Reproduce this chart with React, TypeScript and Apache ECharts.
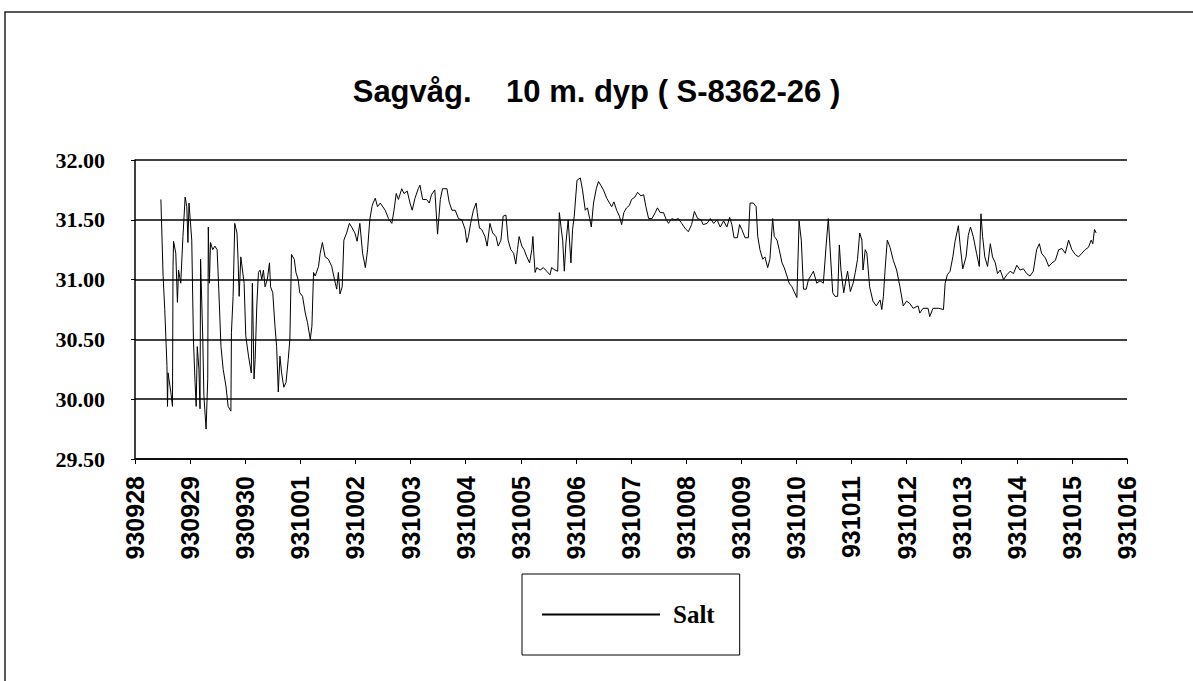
import React, { useEffect, useRef } from "react";
import * as echarts from "echarts";

const dateLabels = [
  "930928", "930929", "930930", "931001", "931002", "931003", "931004",
  "931005", "931006", "931007", "931008", "931009", "931010", "931011",
  "931012", "931013", "931014", "931015", "931016",
];

const yTicks = [29.5, 30.0, 30.5, 31.0, 31.5, 32.0];

// time in days after 930928 00:00
const dayOffset = [
  0.47, 0.51, 0.54, 0.58, 0.59, 0.60, 0.65, 0.68, 0.69, 0.70, 0.74, 0.77, 0.79, 0.83, 0.87, 0.91, 0.94, 0.96, 0.98,
  1.03, 1.06, 1.09, 1.11, 1.13, 1.16, 1.18, 1.19, 1.23, 1.25, 1.29, 1.32, 1.33, 1.35, 1.37, 1.41, 1.45, 1.49, 1.52,
  1.56, 1.60, 1.65, 1.69, 1.74, 1.75, 1.78, 1.81, 1.85, 1.87, 1.89, 1.92, 1.95, 1.98,
  2.01, 2.06, 2.11, 2.13, 2.16, 2.18, 2.21, 2.24, 2.27, 2.30, 2.33, 2.36, 2.40, 2.44, 2.46, 2.50, 2.54, 2.57, 2.60,
  2.63, 2.66, 2.70, 2.74, 2.78, 2.81, 2.84, 2.89, 2.92, 2.96, 2.99,
  3.04, 3.09, 3.13, 3.18, 3.21, 3.24, 3.27, 3.33, 3.36, 3.40, 3.45, 3.51, 3.57, 3.62, 3.66, 3.69, 3.72, 3.76, 3.79,
  3.84, 3.89, 3.93, 3.99,
  4.03, 4.08, 4.13, 4.18, 4.22, 4.26, 4.30, 4.32, 4.36, 4.40, 4.45, 4.54, 4.60, 4.66, 4.70, 4.74, 4.78, 4.84, 4.88,
  4.94, 4.99,
  5.03, 5.08, 5.14, 5.17, 5.22, 5.29, 5.34, 5.38, 5.44, 5.49, 5.54, 5.58, 5.66, 5.70, 5.75, 5.81, 5.87, 5.93, 5.99,
  6.02, 6.05, 6.09, 6.14, 6.19, 6.21, 6.25, 6.29, 6.35, 6.39, 6.44, 6.49, 6.55, 6.59, 6.64, 6.68, 6.73, 6.77, 6.82,
  6.87, 6.91, 6.94, 6.97,
  7.02, 7.06, 7.11, 7.16, 7.20, 7.22, 7.24, 7.26, 7.29, 7.35, 7.41, 7.47, 7.53, 7.56, 7.62, 7.67, 7.70, 7.73, 7.76,
  7.79, 7.82, 7.86, 7.91, 7.94, 7.97,
  8.02, 8.08, 8.12, 8.17, 8.21, 8.25, 8.28, 8.32, 8.37, 8.41, 8.45, 8.50, 8.56, 8.61, 8.65, 8.69, 8.74, 8.79, 8.83,
  8.87, 8.92, 8.97,
  9.01, 9.07, 9.12, 9.18, 9.23, 9.27, 9.32, 9.38, 9.44, 9.48, 9.53, 9.59, 9.64, 9.68, 9.74, 9.80, 9.86, 9.92, 9.98,
  10.04, 10.10, 10.15, 10.21, 10.27, 10.31, 10.38, 10.44, 10.50, 10.56, 10.62, 10.68, 10.74, 10.79, 10.83, 10.87,
  10.93, 10.97,
  11.01, 11.07, 11.13, 11.16, 11.22, 11.27, 11.30, 11.34, 11.39, 11.43, 11.48, 11.52, 11.57, 11.60, 11.65, 11.69,
  11.74, 11.78, 11.83, 11.87, 11.92, 11.96,
  12.01, 12.05, 12.09, 12.13, 12.18, 12.22, 12.26, 12.31, 12.37, 12.43, 12.49, 12.54, 12.58, 12.61, 12.66, 12.70,
  12.75, 12.78, 12.81, 12.86, 12.90, 12.93, 12.98,
  13.03, 13.07, 13.11, 13.15, 13.19, 13.21, 13.25, 13.28, 13.33, 13.39, 13.45, 13.52, 13.55, 13.58, 13.61, 13.65,
  13.70, 13.76, 13.82, 13.88, 13.94,
  14.00, 14.06, 14.12, 14.21, 14.24, 14.30, 14.39, 14.42, 14.48, 14.58, 14.67, 14.70, 14.74, 14.79, 14.84, 14.88,
  14.94, 14.97,
  15.02, 15.08, 15.12, 15.16, 15.21, 15.27, 15.32, 15.35, 15.38, 15.42, 15.47, 15.52, 15.56, 15.61, 15.65, 15.70,
  15.76, 15.82, 15.88, 15.94,
  16.00, 16.06, 16.12, 16.18, 16.24, 16.30, 16.36, 16.41, 16.45, 16.52, 16.58, 16.64, 16.70, 16.76, 16.82, 16.88,
  16.94,
  17.00, 17.06, 17.12, 17.18, 17.24, 17.30, 17.35, 17.38, 17.41, 17.44,
];

const salt = [
  31.67, 31.03, 30.75, 30.28, 29.94, 30.22, 30.06, 29.94, 31.11, 31.32, 31.22, 30.81, 31.08, 30.97, 31.36, 31.69, 31.61, 31.31, 31.64,
  31.33, 30.50, 30.14, 29.94, 30.44, 30.25, 29.92, 31.17, 30.50, 30.03, 29.75, 30.17, 31.44, 30.97, 31.31, 31.25, 31.28, 31.25, 30.92,
  30.44, 30.25, 30.11, 29.94, 29.90, 30.56, 30.86, 31.47, 31.39, 31.17, 30.86, 31.19, 31.08, 30.97,
  30.53, 30.36, 30.22, 30.97, 30.17, 30.33, 30.78, 31.06, 31.08, 31.00, 31.08, 30.94, 31.00, 31.14, 30.94, 30.89, 30.61, 30.44, 30.06,
  30.36, 30.22, 30.10, 30.14, 30.33, 30.50, 31.21, 31.17, 31.06, 31.00, 30.89,
  30.86, 30.72, 30.64, 30.50, 30.61, 31.06, 31.03, 31.11, 31.22, 31.31, 31.19, 31.17, 31.11, 31.00, 30.92, 31.06, 30.88, 30.94, 31.33,
  31.39, 31.47, 31.44, 31.39,
  31.32, 31.47, 31.22, 31.10, 31.25, 31.50, 31.61, 31.64, 31.68, 31.61, 31.64, 31.58, 31.51, 31.47, 31.58, 31.72, 31.67, 31.76, 31.72,
  31.74, 31.64,
  31.58, 31.68, 31.76, 31.79, 31.67, 31.67, 31.64, 31.71, 31.75, 31.38, 31.67, 31.76, 31.76, 31.65, 31.58, 31.58, 31.51, 31.50, 31.42,
  31.31, 31.36, 31.47, 31.58, 31.64, 31.56, 31.43, 31.42, 31.36, 31.28, 31.47, 31.39, 31.36, 31.28, 31.33, 31.53, 31.54, 31.33, 31.25,
  31.22, 31.13, 31.25, 31.36,
  31.28, 31.25, 31.19, 31.14, 31.25, 31.36, 31.19, 31.06, 31.10, 31.08, 31.10, 31.07, 31.04, 31.10, 31.08, 31.07, 31.56, 31.44, 31.33,
  31.07, 31.31, 31.50, 31.14, 31.42, 31.53,
  31.83, 31.85, 31.75, 31.58, 31.60, 31.51, 31.44, 31.64, 31.76, 31.82, 31.79, 31.75, 31.68, 31.64, 31.61, 31.65, 31.58, 31.53, 31.46,
  31.56, 31.60, 31.62,
  31.67, 31.69, 31.73, 31.70, 31.71, 31.61, 31.51, 31.51, 31.56, 31.60, 31.56, 31.56, 31.50, 31.47, 31.51, 31.50, 31.51, 31.47, 31.43,
  31.40, 31.46, 31.57, 31.51, 31.50, 31.46, 31.47, 31.51, 31.47, 31.50, 31.44, 31.49, 31.44, 31.52, 31.46, 31.35,
  31.35, 31.46,
  31.42, 31.35, 31.35, 31.64, 31.64, 31.61, 31.36, 31.25, 31.17, 31.19, 31.10, 31.17, 31.51, 31.36, 31.33, 31.25,
  31.14, 31.10, 31.03, 30.97, 30.94, 30.90,
  30.85, 31.49, 31.33, 30.92, 30.92, 31.00, 31.03, 31.07, 30.97, 30.99, 30.97, 31.28, 31.51, 31.28, 30.89, 30.86,
  30.86, 31.29, 31.08, 30.89, 31.00, 31.07, 30.90,
  30.97, 31.06, 31.17, 31.39, 31.33, 31.08, 31.25, 31.22, 30.94, 30.82, 30.78, 30.83, 30.75, 30.86, 31.08, 31.33,
  31.27, 31.16, 31.08, 30.94, 30.78,
  30.82, 30.80, 30.76, 30.78, 30.72, 30.76, 30.76, 30.69, 30.76, 30.76, 30.75, 30.97, 31.04, 31.07, 31.19, 31.32,
  31.45, 31.30,
  31.09, 31.19, 31.37, 31.44, 31.36, 31.22, 31.11, 31.55, 31.36, 31.19, 31.11, 31.30, 31.19, 31.14, 31.05, 31.08,
  31.00, 31.04, 31.07, 31.05,
  31.12, 31.08, 31.09, 31.05, 31.03, 31.07, 31.25, 31.30, 31.22, 31.18, 31.11, 31.14, 31.16, 31.25, 31.26, 31.22,
  31.33,
  31.25, 31.21, 31.19, 31.22, 31.25, 31.27, 31.33, 31.30, 31.42, 31.39,
];

const titleText = "Sagvåg.    10 m. dyp ( S-8362-26 )";
const seriesName = "Salt";

export default function App() {
  const ref = useRef<HTMLDivElement>(null);
  useEffect(() => {
    if (!ref.current) return;
    const chart = echarts.init(ref.current, undefined, { renderer: "svg" });
    const n = Math.min(dayOffset.length, salt.length);
    const data: [number, number][] = [];
    for (let i = 0; i < n; i++) data.push([dayOffset[i], salt[i]]);
    chart.setOption({
      animation: false,
      backgroundColor: "#fff",
      title: {
        text: titleText,
        left: "center",
        top: 71,
        textStyle: {
          fontFamily: "Liberation Sans, Arial, sans-serif",
          fontWeight: "bold",
          fontSize: 31,
          color: "#000",
        },
      },
      graphic: [
        {
          type: "rect",
          shape: { x: 5, y: 12, width: 1300, height: 800 },
          style: { fill: "none", stroke: "#222", lineWidth: 1.5 },
          silent: true,
        },
      ],
      legend: {
        show: true,
        left: 522,
        top: 574,
        orient: "horizontal",
        padding: [28, 25, 28, 20],
        borderColor: "#000",
        borderWidth: 1,
        itemWidth: 118,
        itemHeight: 2,
        icon: "rect",
        itemStyle: { color: "#000" },
        textStyle: {
          fontFamily: "Liberation Serif, Times New Roman, serif",
          fontWeight: "bold",
          fontSize: 25,
          color: "#000",
          padding: [0, 0, 0, 8],
        },
        data: [seriesName],
      },
      grid: { left: 135, right: 66, top: 160, bottom: 222, containLabel: false },
      xAxis: {
        type: "value",
        min: 0,
        max: dateLabels.length - 1,
        interval: 1,
        splitLine: { show: false },
        axisLine: { show: true, lineStyle: { color: "#000", width: 1.5 } },
        axisTick: { show: true, length: 5, lineStyle: { color: "#000", width: 1 } },
        axisLabel: {
          rotate: 90,
          margin: 17,
          formatter: (v: number) => dateLabels[Math.round(v)] ?? "",
          fontFamily: "Liberation Sans, Arial, sans-serif",
          fontWeight: "bold",
          fontSize: 25,
          color: "#000",
        },
      },
      yAxis: {
        type: "value",
        min: yTicks[0],
        max: yTicks[yTicks.length - 1],
        interval: 0.5,
        axisLine: { show: true, lineStyle: { color: "#000", width: 1.5 } },
        axisTick: { show: true, length: 4, lineStyle: { color: "#000" } },
        splitLine: { show: true, lineStyle: { color: "#000", width: 1.5 } },
        axisLabel: {
          margin: 30,
          formatter: (v: number) => v.toFixed(2),
          fontFamily: "Liberation Serif, Times New Roman, serif",
          fontWeight: "bold",
          fontSize: 22,
          color: "#000",
        },
      },
      series: [
        {
          name: seriesName,
          type: "line",
          data,
          symbol: "none",
          showSymbol: false,
          lineStyle: { color: "#000", width: 1 },
          itemStyle: { color: "#000" },
        },
      ],
    });
    return () => chart.dispose();
  }, []);
  return (
    <div
      ref={ref}
      style={{ position: "fixed", left: 0, top: 0, width: 1193, height: 681, background: "#fff" }}
    />
  );
}
